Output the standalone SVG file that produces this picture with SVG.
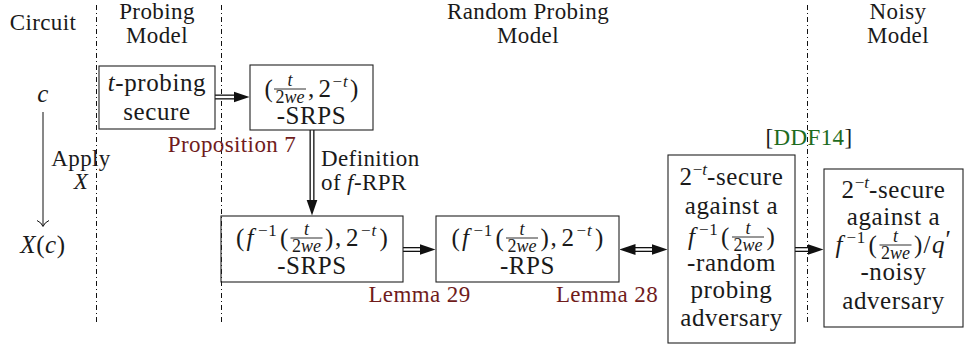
<svg xmlns="http://www.w3.org/2000/svg" width="964" height="347" viewBox="0 0 964 347">
<defs>
<style>
text{font-family:'Liberation Serif','DejaVu Serif',serif;font-size:23px;fill:#1a1a1a;letter-spacing:0.4px}
.b{font-size:25px;letter-spacing:0.6px}
.m{text-anchor:middle}
.i{font-style:italic}
.s{font-size:17px;letter-spacing:0}
.f{font-size:18px;letter-spacing:0}
.red{fill:#701c1c}
.grn{fill:#1e6b1e}
.box{fill:none;stroke:#222;stroke-width:1.1}
.sep{fill:none;stroke:#111;stroke-width:1;stroke-dasharray:5 3 1 3}
.fb{stroke:#1a1a1a;stroke-width:0.9}
.dO{fill:none;stroke:#111;stroke-width:5}
.dI{fill:none;stroke:#fff;stroke-width:2.4}
.ln{fill:none;stroke:#111;stroke-width:1}
</style>
<marker id="ah" markerUnits="userSpaceOnUse" viewBox="0 0 16 12" markerWidth="16" markerHeight="12" refX="0.5" refY="6" orient="auto-start-reverse"><path d="M0,0.5 L16,6 L0,11.5 Z" fill="#111"/></marker>
</defs>
<rect width="964" height="347" fill="#fff"/>

<g id="separators">
<path class="sep" d="M96.5,5 V324"/>
<path class="sep" d="M221.5,5 V324"/>
<path class="sep" d="M807.5,5 V324"/>
</g>

<g id="headers">
<text class="m" x="43" y="30">Circuit</text>
<text class="m" x="157" y="19">Probing</text>
<text class="m" x="157" y="43">Model</text>
<text class="m" x="528" y="19">Random Probing</text>
<text class="m" x="528" y="43">Model</text>
<text class="m" x="898" y="19">Noisy</text>
<text class="m" x="898" y="43">Model</text>
</g>

<g id="circuit">
<text class="m i b" x="43" y="102">c</text>
<text class="m b" x="43" y="253"><tspan class="i">X</tspan>(<tspan class="i">c</tspan>)</text>
<text class="m" x="81" y="166">Apply</text>
<text class="m i" x="81" y="189">X</text>
</g>

<g id="connectors">
<path class="ln" d="M43,112 V226"/>
<path class="ln" d="M37,220.5 Q41.5,222.5 43,226.5 Q44.5,222.5 49,220.5"/>
<path class="dO" d="M215,97 H234"/><path class="dI" d="M215,97 H234" marker-end="url(#ah)"/>
<path class="dO" d="M312,130 V200"/><path class="dI" d="M312,130 V200" marker-end="url(#ah)"/>
<path class="dO" d="M403,249.5 H420"/><path class="dI" d="M403,249.5 H420" marker-end="url(#ah)"/>
<path class="dO" d="M635,249.5 H652"/><path class="dI" d="M635,249.5 H652" marker-start="url(#ah)" marker-end="url(#ah)"/>
<path class="dO" d="M795,249.5 H808"/><path class="dI" d="M795,249.5 H808" marker-end="url(#ah)"/>
</g>

<g id="labels">
<text class="m red" x="232" y="152">Proposition 7</text>
<text x="321" y="166">Definition</text>
<text x="321" y="190">of <tspan class="i">f</tspan>-RPR</text>
<text class="m red" x="419.5" y="302">Lemma 29</text>
<text class="m red" x="607" y="302">Lemma 28</text>
<text class="m" x="809" y="145">[<tspan class="grn">DDF14</tspan>]</text>
</g>

<g id="node-probing">
<rect class="box" x="99" y="66" width="116" height="63"/>
<text class="m b" x="157" y="91"><tspan class="i">t</tspan>-probing</text>
<text class="m b" x="157" y="120">secure</text>
</g>

<g id="node-srps1">
<rect class="box" x="250" y="65" width="123" height="65"/>
<text class="b" x="264.5" y="97">(</text>
<text class="m i f" x="290" y="85.5">t</text>
<line class="fb" x1="274" y1="89" x2="306" y2="89"/>
<text class="m f" x="290" y="102.5">2<tspan class="i">we</tspan></text>
<text class="b" x="308" y="97">,</text>
<text class="b" x="318.5" y="97">2</text>
<text class="s" x="332.5" y="87">−</text>
<text class="s i" x="343" y="87">t</text>
<text class="b" x="350" y="97">)</text>
<text class="m b" x="311.5" y="124">-SRPS</text>
</g>

<g id="node-srps2">
<rect class="box" x="221" y="216" width="182" height="66"/>
<text class="b" x="236" y="246">(</text>
<text class="b i" x="246.5" y="246">f</text>
<text class="s" x="258" y="236">−</text>
<text class="s" x="268.3" y="236">1</text>
<text class="b" x="280" y="246">(</text>
<text class="m i f" x="306.5" y="234.5">t</text>
<line class="fb" x1="290.5" y1="238" x2="322.5" y2="238"/>
<text class="m f" x="306.5" y="251.5">2<tspan class="i">we</tspan></text>
<text class="b" x="325" y="246">)</text>
<text class="b" x="335" y="246">,</text>
<text class="b" x="346" y="246">2</text>
<text class="s" x="361" y="236">−</text>
<text class="s i" x="371.5" y="236">t</text>
<text class="b" x="379.5" y="246">)</text>
<text class="m b" x="312" y="274">-SRPS</text>
</g>

<g id="node-rps">
<rect class="box" x="436" y="216" width="183" height="66"/>
<text class="b" x="451.5" y="246">(</text>
<text class="b i" x="462" y="246">f</text>
<text class="s" x="473.5" y="236">−</text>
<text class="s" x="483.8" y="236">1</text>
<text class="b" x="495.5" y="246">(</text>
<text class="m i f" x="522" y="234.5">t</text>
<line class="fb" x1="506" y1="238" x2="538" y2="238"/>
<text class="m f" x="522" y="251.5">2<tspan class="i">we</tspan></text>
<text class="b" x="540.5" y="246">)</text>
<text class="b" x="550.5" y="246">,</text>
<text class="b" x="561.5" y="246">2</text>
<text class="s" x="576.5" y="236">−</text>
<text class="s i" x="587" y="236">t</text>
<text class="b" x="595" y="246">)</text>
<text class="m b" x="527.5" y="274">-RPS</text>
</g>

<g id="node-random-probing">
<rect class="box" x="668" y="155" width="127" height="188"/>
<text class="m b" x="731.5" y="185">2<tspan class="s" dy="-10">−</tspan><tspan class="s i">t</tspan><tspan dy="10">-secure</tspan></text>
<text class="m b" x="731.5" y="214">against a</text>
<text class="b i" x="688" y="245">f</text>
<text class="s" x="699" y="235">−</text>
<text class="s" x="709.3" y="235">1</text>
<text class="b" x="721" y="245">(</text>
<text class="m i f" x="748" y="233.5">t</text>
<line class="fb" x1="732" y1="237" x2="764" y2="237"/>
<text class="m f" x="748" y="250.5">2<tspan class="i">we</tspan></text>
<text class="b" x="766.5" y="245">)</text>
<text class="m b" x="731.5" y="271">-random</text>
<text class="m b" x="731.5" y="298">probing</text>
<text class="m b" x="731.5" y="326">adversary</text>
</g>

<g id="node-noisy">
<rect class="box" x="824" y="169" width="139" height="158"/>
<text class="m b" x="893.5" y="198">2<tspan class="s" dy="-10">−</tspan><tspan class="s i">t</tspan><tspan dy="10">-secure</tspan></text>
<text class="m b" x="893.5" y="225">against a</text>
<text class="b i" x="835.5" y="253">f</text>
<text class="s" x="846.5" y="243">−</text>
<text class="s" x="856.8" y="243">1</text>
<text class="b" x="868.5" y="253">(</text>
<text class="m i f" x="895.5" y="241.5">t</text>
<line class="fb" x1="879.5" y1="245" x2="911.5" y2="245"/>
<text class="m f" x="895.5" y="258.5">2<tspan class="i">we</tspan></text>
<text class="b" x="914" y="253">)</text>
<text class="b" x="923.5" y="253">/</text>
<text class="b i" x="932" y="253">q</text>
<text class="b" x="945.5" y="248">′</text>
<text class="m b" x="893.5" y="280">-noisy</text>
<text class="m b" x="893.5" y="309">adversary</text>
</g>
</svg>
